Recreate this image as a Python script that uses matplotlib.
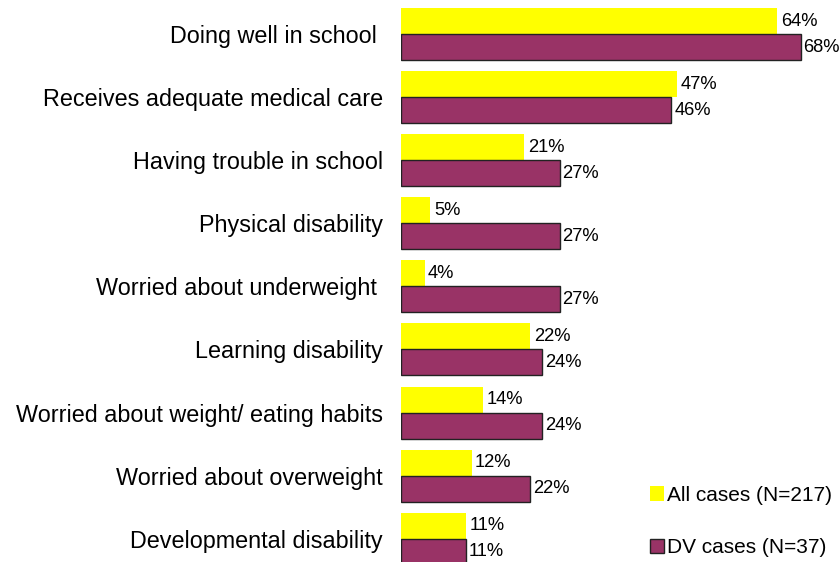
import matplotlib.pyplot as plt
from matplotlib.patches import Patch
import numpy as np

plt.rcParams['font.family'] = ['Liberation Sans', 'DejaVu Sans']

categories = [
    "Doing well in school ",
    "Receives adequate medical care",
    "Having trouble in school",
    "Physical disability",
    "Worried about underweight ",
    "Learning disability",
    "Worried about weight/ eating habits",
    "Worried about overweight",
    "Developmental disability",
]
all_cases = [64, 47, 21, 5, 4, 22, 14, 12, 11]
dv_cases = [68, 46, 27, 27, 27, 24, 24, 22, 11]
series_labels = ["All cases (N=217)", "DV cases (N=37)"]

yellow = "#FFFF00"
maroon = "#993366"

fig = plt.figure(figsize=(8.39, 5.62), dpi=100)
ax = fig.add_axes([401 / 839, 0, 438 / 839, 1])

y = np.arange(len(categories))
h = 0.412
ax.barh(y - h / 2, all_cases, height=h, color=yellow, edgecolor="none")
ax.barh(y + h / 2, dv_cases, height=h, color=maroon, edgecolor="#222222", linewidth=1)

for yi, v in zip(y - h / 2, all_cases):
    ax.annotate(f"{v}%", (v, yi), xytext=(2.5, 0), textcoords="offset points",
                va="center", ha="left", fontsize=13.2, annotation_clip=False)
for yi, v in zip(y + h / 2, dv_cases):
    ax.annotate(f"{v}%", (v, yi), xytext=(2, 0), textcoords="offset points",
                va="center", ha="left", fontsize=13.2, annotation_clip=False)

ax.set_xlim(0, 74.5)
ax.set_ylim(8.368, -0.539)
ax.set_yticks(y)
ax.set_yticklabels(categories, fontsize=16.8)
ax.tick_params(axis="y", length=0, pad=13)
ax.set_xticks([])
for s in ax.spines.values():
    s.set_visible(False)

handles = [Patch(facecolor=yellow, edgecolor="none"),
           Patch(facecolor=maroon, edgecolor="#222222", linewidth=1)]
fig.legend(handles, series_labels, loc="lower right", bbox_to_anchor=(1.007, -0.014),
           frameon=False, fontsize=15, handlelength=0.7, handleheight=0.7,
           handletextpad=0.15, labelspacing=1.6, borderaxespad=0.2)

fig.savefig("out.png", dpi=100)
